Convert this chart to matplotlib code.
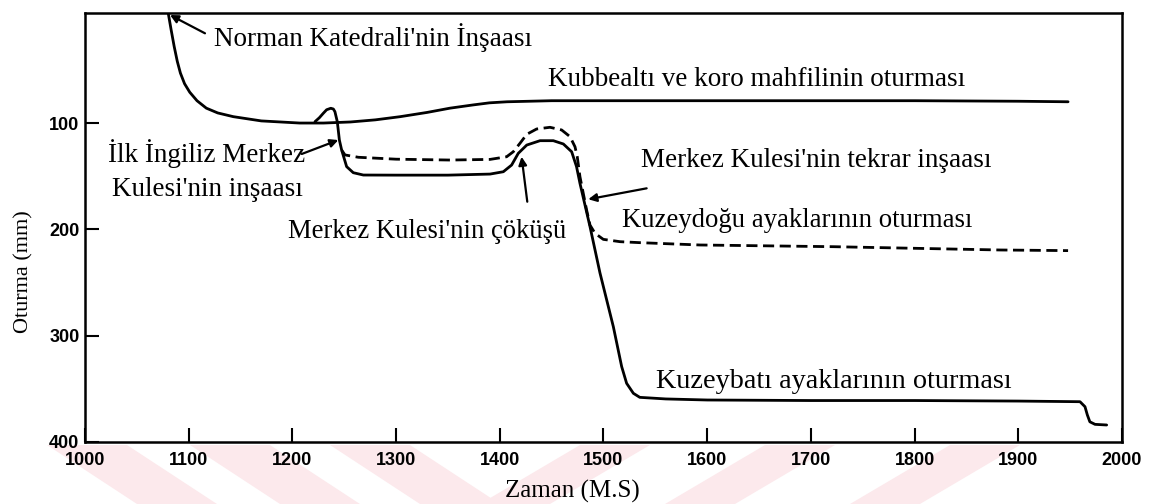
import matplotlib
matplotlib.use("Agg")
import matplotlib.pyplot as plt
from matplotlib.patches import Polygon

# ---------------- data ----------------
# upper curve: Norman cathedral settlement + "Kubbealtı ve koro mahfili"
upper_x = [1079, 1080.3, 1083, 1086, 1089, 1092, 1096, 1101, 1108, 1117, 1128, 1143,
           1170, 1207, 1230, 1256, 1280, 1304, 1330, 1352, 1374, 1390, 1407, 1450,
           1500, 1600, 1700, 1800, 1900, 1948]
upper_y = [-16, -3.2, 12, 28, 42, 53, 63, 71, 79, 86, 90.5, 94,
           98, 100, 100, 99, 97, 94, 90, 86, 83, 81, 80, 79,
           79, 79, 79, 79, 79.5, 80]

# north-west piers (solid)
nw_x = [1221.8, 1226, 1229.8, 1233, 1237, 1239.5, 1241, 1243.3, 1245.3, 1247.5, 1252.3,
        1258.7, 1268.4, 1300, 1350, 1390.6, 1403.4, 1411.4, 1417.8, 1426, 1438.8, 1451.6,
        1461.3, 1469.3, 1474, 1477.3, 1487, 1496.6, 1509.5, 1517.5, 1522.3, 1528.8, 1535,
        1560, 1600, 1700, 1800, 1900, 1959.5, 1964.3, 1966.6, 1969, 1974, 1985.2]
nw_y = [98.7, 95, 90.8, 87.5, 86.1, 86.8, 89.3, 98.7, 116, 125.4, 141,
        146.7, 148.9, 149, 149, 148, 145.8, 139.5, 128.5, 120.7, 116.6, 116.6,
        119.7, 127, 141, 156.7, 197.5, 241, 291.6, 329, 344.8, 354.2, 358,
        359.5, 360.5, 361, 361, 361.5, 362.1, 366.8, 374.6, 381, 383.4, 384]

# north-east piers (dashed)
ne_x = [1247.5, 1250.7, 1263.6, 1300, 1352, 1390.6, 1406.6, 1413, 1419.5, 1426,
        1435.5, 1448.4, 1459.6, 1467.7, 1472.5, 1474.7, 1477.3, 1483.7, 1487,
        1491.8, 1499.8, 1516, 1535, 1593, 1721.6, 1882.4, 1948]
ne_y = [125.4, 130, 132.2, 134, 134.8, 134.2, 131.7, 127, 119, 110.6,
        105.6, 104, 106.5, 112.8, 122.3, 131.7, 150.5, 181.8, 196,
        203.7, 209.4, 211.6, 212.5, 214.7, 216.3, 219.4, 220]

x_ticks = [1000, 1100, 1200, 1300, 1400, 1500, 1600, 1700, 1800, 1900, 2000]
y_ticks = [100, 200, 300, 400]

xlabel = "Zaman (M.S)"
ylabel = "Oturma (mm)"

# annotations: text, position (data), font size
labels = [
    ("Norman Katedrali'nin İnşaası", 1124.5, 19.5, 19.5),
    ("Kubbealtı ve koro mahfilinin oturması", 1446.5, 59, 19.5),
    ("İlk İngiliz Merkez", 1022, 129, 19.5),
    ("Kulesi'nin inşaası", 1026, 162.5, 19.5),
    ("Merkez Kulesi'nin çöküşü", 1195.8, 202, 19.2),
    ("Merkez Kulesi'nin tekrar inşaası", 1536, 135, 19.5),
    ("Kuzeydoğu ayaklarının oturması", 1518, 192, 19.3),
    ("Kuzeybatı ayaklarının oturması", 1550.6, 343, 20.3),
]
# arrows: (start_x, start_y, head_x, head_y)
arrows = [
    (1115.7, 15.6, 1082, -1.6),
    (1209, 129.1, 1244.3, 116),
    (1426.5, 174, 1421, 131.7),
    (1541.6, 161.4, 1485.3, 171.7),
]

# ---------------- figure ----------------
W, H = 1151, 504
fig = plt.figure(figsize=(W / 100, H / 100), dpi=100)

# faint scan watermark stripes below the axis (pixel coords -> figure fraction)
def px(pts):
    return [(x / W, 1 - y / H) for x, y in pts]

wm_color = "#fce9ec"
for x0 in (47, 190, 330):
    fig.add_artist(Polygon(px([(x0, 445), (x0 + 80, 445), (x0 + 170, 504), (x0 + 90, 504)]),
                           closed=True, facecolor=wm_color, edgecolor="none", zorder=0))
for x0 in (580, 765, 950):
    fig.add_artist(Polygon(px([(x0, 445), (x0 + 70, 445), (x0 - 30, 504), (x0 - 100, 504)]),
                           closed=True, facecolor=wm_color, edgecolor="none", zorder=0))

ax = fig.add_axes([85 / W, 62 / H, (1122 - 85) / W, (442 - 13) / H])
ax.patch.set_alpha(0)

lw = 2.0
ax.plot(upper_x, upper_y, color="black", lw=lw, solid_capstyle="round", solid_joinstyle="round")
ax.plot(nw_x, nw_y, color="black", lw=lw, solid_capstyle="round", solid_joinstyle="round")
ax.plot(ne_x, ne_y, color="black", lw=lw, linestyle=(0, (4, 2)))

ax.set_xlim(1000, 2000)
ax.set_ylim(400, -3.5)

ax.set_xticks(x_ticks)
ax.set_yticks(y_ticks)
tickfont = dict(family="Liberation Sans", weight="bold", size=13)
ax.set_xticklabels([str(t) for t in x_ticks], **tickfont)
ax.set_yticklabels([str(t) for t in y_ticks], **tickfont)
ax.tick_params(axis="x", direction="in", length=10, width=1.5, pad=7)
ax.tick_params(axis="y", direction="in", length=10, width=1.5, pad=4)
for s in ax.spines.values():
    s.set_linewidth(1.8)

serif = "Liberation Serif"
ax.set_xlabel(xlabel, family=serif, fontsize=18)
ax.xaxis.set_label_coords(0.47, -0.089)
ax.set_ylabel(ylabel, family=serif, fontsize=16)
ax.yaxis.set_label_coords(-0.05, 0.396)

for txt, tx, ty, fs in labels:
    ax.text(tx, ty, txt, family=serif, fontsize=fs, ha="left", va="center")

for sx, sy, hx, hy in arrows:
    ax.annotate("", xy=(hx, hy), xytext=(sx, sy),
                arrowprops=dict(arrowstyle="-|>", color="black", lw=1.6,
                                mutation_scale=12, shrinkA=0, shrinkB=0),
                annotation_clip=False)

fig.savefig("out.png", dpi=100)
